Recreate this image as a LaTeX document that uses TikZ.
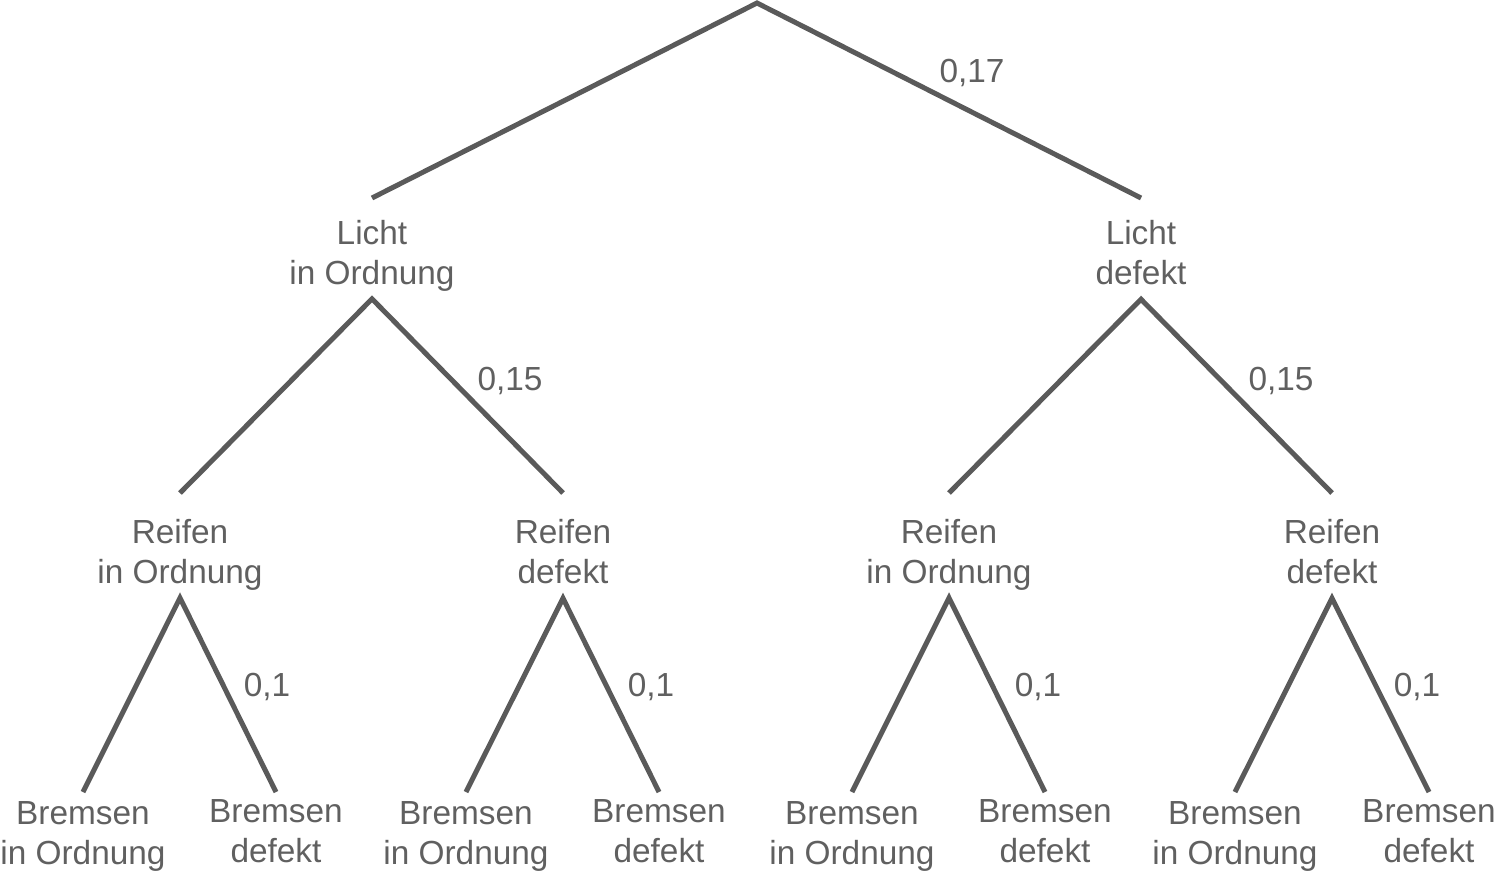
\documentclass[tikz,border=0pt]{standalone}
\usepackage{fontspec}
\setmainfont{Liberation Sans}
\usetikzlibrary{positioning}
\definecolor{treegray}{HTML}{5A5A5A}
\definecolor{textgray}{HTML}{606060}

\begin{document}
\begin{tikzpicture}[x=0.02cm, y=-0.02cm,
        state/.style={align=center, anchor=north, inner sep=0pt, text=textgray,
            font=\fontsize{19}{22.8}\selectfont},
        prob/.style={inner sep=0pt, text=textgray, font=\fontsize{19}{22.8}\selectfont},
        branch/.style={draw=treegray, line width=0.1cm, line join=miter}]
        \useasboundingbox (0,0) rectangle (1496,875);
        \coordinate (root) at (757,3);
        % level 1
        \node[state] (lok) at (372,220) {Licht\\in Ordnung};
        \node[state] (ldef) at (1141,220) {Licht\\defekt};
        % level 2
        \node[state] (rok1) at (180,519) {Reifen\\in Ordnung};
        \node[state] (rdef1) at (563,519) {Reifen\\defekt};
        \node[state] (rok2) at (949,519) {Reifen\\in Ordnung};
        \node[state] (rdef2) at (1332,519) {Reifen\\defekt};
        % level 3
        \node[state] (bok1) at (83,801) {Bremsen\\in Ordnung};
        \node[state] (bdef1) at (276,799) {Bremsen\\defekt};
        \node[state] (bok2) at (466,801) {Bremsen\\in Ordnung};
        \node[state] (bdef2) at (659,799) {Bremsen\\defekt};
        \node[state] (bok3) at (852,801) {Bremsen\\in Ordnung};
        \node[state] (bdef3) at (1045,799) {Bremsen\\defekt};
        \node[state] (bok4) at (1235,801) {Bremsen\\in Ordnung};
        \node[state] (bdef4) at (1429,799) {Bremsen\\defekt};
        % probabilities
        \node[prob] (p0) at (972,73) {0,17};
        \node[prob] (p1) at (510,381) {0,15};
        \node[prob] (p2) at (1281,381) {0,15};
        \node[prob] (p3) at (267,687) {0,1};
        \node[prob] (p4) at (651,687) {0,1};
        \node[prob] (p5) at (1038,687) {0,1};
        \node[prob] (p6) at (1417,687) {0,1};

        \draw[branch] ([yshift=0.44cm]lok.north) -- (root) -- ([yshift=0.44cm]ldef.north);
        \draw[branch] ([yshift=0.52cm]rok1.north) -- ([yshift=-0.14cm]lok.south) -- ([yshift=0.52cm]rdef1.north);
        \draw[branch] ([yshift=0.52cm]rok2.north) -- ([yshift=-0.28cm]ldef.south) -- ([yshift=0.52cm]rdef2.north);
        \draw[branch] ([yshift=0.18cm]bok1.north) -- ([yshift=-0.14cm]rok1.south) -- ([yshift=0.14cm]bdef1.north);
        \draw[branch] ([yshift=0.18cm]bok2.north) -- ([yshift=-0.28cm]rdef1.south) -- ([yshift=0.14cm]bdef2.north);
        \draw[branch] ([yshift=0.18cm]bok3.north) -- ([yshift=-0.14cm]rok2.south) -- ([yshift=0.14cm]bdef3.north);
        \draw[branch] ([yshift=0.18cm]bok4.north) -- ([yshift=-0.28cm]rdef2.south) -- ([yshift=0.14cm]bdef4.north);
    \end{tikzpicture}
\end{document}
